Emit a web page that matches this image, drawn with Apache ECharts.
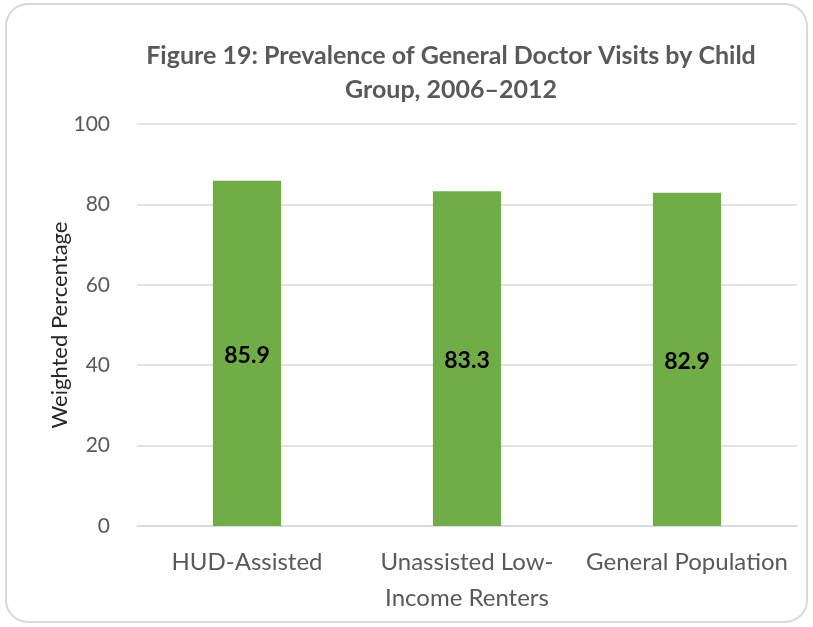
<!DOCTYPE html>
<html>
<head>
<meta charset="utf-8">
<script src="https://cdn.jsdelivr.net/npm/echarts@6/dist/echarts.min.js"></script>
<style>
  html, body { margin: 0; padding: 0; background: #fff; }
  #main { width: 813px; height: 627px; }
</style>
</head>
<body>
<div id="main"></div>
<script>
// categories and values
const groups = ['HUD-Assisted', 'Unassisted Low-\nIncome Renters', 'General Population']
const visits = [85.9, 83.3, 82.9]
const yTicks = { min: 0, max: 100, step: 20 }

const font = 'Lato, "Open Sans", sans-serif'
const chart = echarts.init(document.getElementById('main'))

chart.setOption({
  animation: false,
  graphic: [{
    type: 'rect',
    shape: { x: 6, y: 4, width: 801, height: 618, r: 22 },
    style: { fill: 'none', stroke: '#d9d9d9', lineWidth: 2 },
    silent: true
  }],
  title: {
    text: 'Figure 19: Prevalence of General Doctor Visits by Child\nGroup, 2006–2012',
    left: 446,
    textAlign: 'center',
    top: 34,
    textStyle: { fontFamily: font, fontSize: 25, fontWeight: 'bold', color: '#595959', lineHeight: 34 }
  },
  grid: { left: 137, right: 16, top: 124, bottom: 101 },
  xAxis: {
    type: 'category',
    data: groups,
    axisLine: { lineStyle: { color: '#d9d9d9', width: 1.5 } },
    axisTick: { show: false },
    axisLabel: { fontFamily: font, fontSize: 24, color: '#595959', lineHeight: 36, margin: 18, interval: 0 }
  },
  yAxis: {
    type: 'value',
    min: yTicks.min,
    max: yTicks.max,
    interval: yTicks.step,
    name: 'Weighted Percentage',
    nameLocation: 'middle',
    nameGap: 66,
    nameMoveOverlap: false,
    nameTextStyle: { fontFamily: font, fontSize: 22, color: '#262626' },
    axisLine: { show: false },
    axisTick: { show: false },
    splitLine: { lineStyle: { color: '#d9d9d9', width: 1.5 } },
    axisLabel: { fontFamily: font, fontSize: 21, color: '#595959', margin: 27 }
  },
  series: [{
    type: 'bar',
    data: visits,
    barWidth: '31%',
    itemStyle: { color: '#70ad47' },
    label: {
      show: true,
      position: 'inside',
      offset: [0, 2],
      fontFamily: font,
      fontSize: 23,
      fontWeight: 'bold',
      color: '#000',
      formatter: p => p.value.toFixed(1)
    }
  }]
})
</script>
</body>
</html>
